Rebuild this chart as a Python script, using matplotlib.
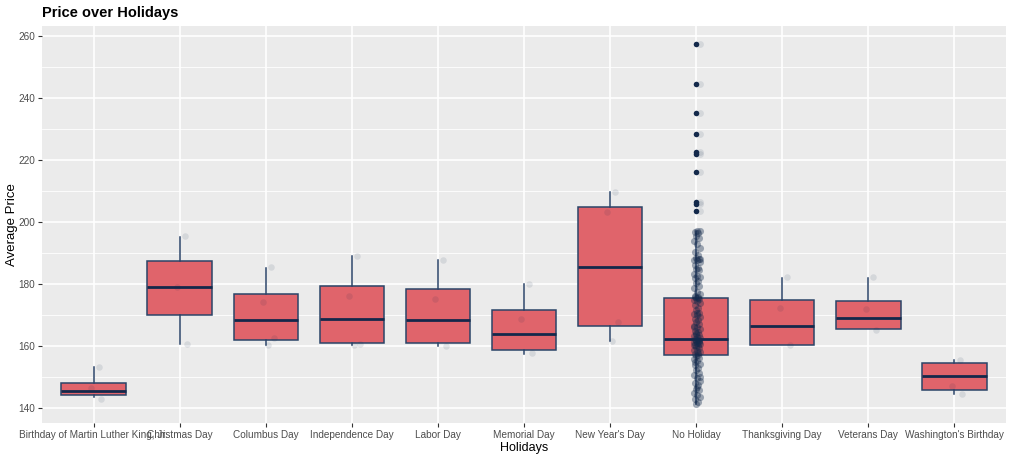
import matplotlib.pyplot as plt
import numpy as np

# categories on the x axis
holidays = ["Birthday of Martin Luther King, Jr.", "Christmas Day", "Columbus Day",
            "Independence Day", "Labor Day", "Memorial Day", "New Year's Day",
            "No Holiday", "Thanksgiving Day", "Veterans Day", "Washington's Birthday"]

# box statistics
whislo = [143.5, 160.6, 160.5, 160.3, 160.0, 157.6, 161.8, 141.3, 160.4, 165.4, 144.5]
q1 = [144.2, 169.9, 162.0, 161.1, 161.0, 158.6, 166.5, 157.2, 160.4, 165.6, 145.9]
med = [145.6, 179.1, 168.4, 168.8, 168.3, 163.9, 185.4, 162.4, 166.4, 169.0, 150.3]
q3 = [148.0, 187.3, 176.9, 179.4, 178.4, 171.5, 204.7, 175.5, 174.7, 174.6, 154.4]
whishi = [153.2, 195.3, 185.3, 188.9, 187.6, 180.0, 209.8, 197.2, 182.0, 182.0, 155.4]

# outliers of the "No Holiday" group
outliers_no_holiday = [257.4, 244.4, 235.3, 228.3, 222.5, 221.9, 216.0, 206.6, 205.8, 203.6]

# raw points for the holiday groups (one list per holiday)
points_holidays = [
    [153.4, 146.4, 142.8],
    [195.5, 179.0, 160.6],
    [185.4, 174.2, 162.6, 160.4],
    [189.0, 176.1, 160.6, 160.2],
    [187.6, 175.3, 160.0],
    [180.0, 168.7, 157.8],
    [209.8, 203.1, 167.7, 161.5],
    [],
    [182.3, 172.2, 160.4],
    [182.3, 172.0, 165.2],
    [155.4, 147.2, 144.5],
]

# raw points of the "No Holiday" group (estimated, dense strip)
points_no_holiday = [
    141.4, 142.0, 142.9, 143.6, 144.1, 145.0, 145.9, 146.3, 147.4, 148.1,
    148.9, 149.6, 150.8, 151.3, 152.2, 152.9, 153.8, 154.1, 155.2, 155.7,
    156.3, 156.9, 157.1, 157.6, 158.2, 158.5, 158.9, 159.3, 159.8, 160.1,
    160.4, 160.6, 160.9, 161.2, 161.5, 161.8, 162.0, 162.3, 162.5, 162.9,
    163.2, 163.6, 164.1, 164.5, 165.0, 165.6, 166.1, 166.4, 167.2, 167.9,
    168.4, 168.7, 169.5, 170.1, 170.4, 170.8, 171.6, 172.3, 173.1, 174.0,
    174.6, 175.0, 175.3, 175.6, 175.9, 176.2, 176.8, 177.5, 178.6, 179.4,
    180.3, 181.1, 181.8, 182.2, 182.5, 183.4, 184.6, 185.0, 185.3, 186.2,
    187.1, 187.6, 187.9, 188.2, 188.5, 189.4, 190.3, 191.6, 192.8, 193.9,
    194.7, 195.6, 196.3, 196.8, 197.0, 197.2, 160.2, 161.0, 162.1, 175.4,
    175.7, 188.0, 170.6, 166.0, 161.6, 163.9, 157.9, 155.0, 150.1, 146.9,
]

fill_color = "#E0646B"
edge_color = "#2B4468"
median_color = "#14284B"
point_color = "#13294B"

fig = plt.figure(figsize=(10.24, 4.61), dpi=100)
ax = fig.add_axes([42 / 1024, (461 - 422.7) / 461, (1006 - 42) / 1024, (422.7 - 26) / 461])
ax.set_facecolor("#EBEBEB")

positions = np.arange(1, len(holidays) + 1)
stats = []
for i in range(len(holidays)):
    stats.append({"whislo": whislo[i], "q1": q1[i], "med": med[i], "q3": q3[i],
                  "whishi": whishi[i], "fliers": []})

ax.bxp(stats, positions=positions, widths=0.75, patch_artist=True, showcaps=False,
       boxprops=dict(facecolor=fill_color, edgecolor=edge_color, linewidth=1.1),
       medianprops=dict(color=median_color, linewidth=2.0),
       whiskerprops=dict(color=edge_color, linewidth=1.1), zorder=3)

# outliers drawn as solid dots
nh = holidays.index("No Holiday") + 1
ax.scatter([nh] * len(outliers_no_holiday), outliers_no_holiday, s=16,
           color=point_color, zorder=5, linewidths=0)

# jittered raw points, faint
offsets = [0.06, -0.03, 0.09, 0.02, -0.06, 0.04]
for i, vals in enumerate(points_holidays):
    xs = [positions[i] + offsets[k % len(offsets)] for k in range(len(vals))]
    ax.scatter(xs, vals, s=22, color=point_color, alpha=0.1, zorder=4, linewidths=0)

small = [0.0, 0.025, -0.015, 0.04, 0.01, -0.02, 0.03]
xs = [nh + small[k % len(small)] for k in range(len(points_no_holiday))]
ax.scatter(xs, points_no_holiday, s=26, color=point_color, alpha=0.38, zorder=4,
           linewidths=0)
ax.scatter([nh + 0.05] * len(outliers_no_holiday), outliers_no_holiday, s=24,
           color=point_color, alpha=0.1, zorder=4, linewidths=0)

ax.set_xlim(0.4, len(holidays) + 0.6)
ax.set_ylim(135.3, 263.2)
ax.set_yticks(np.arange(140, 261, 20))
ax.set_yticks(np.arange(150, 261, 20), minor=True)
ax.set_xticks(positions)
ax.set_xticklabels(holidays)

ax.grid(which="major", color="white", linewidth=1.2, zorder=0)
ax.grid(which="minor", axis="y", color="white", linewidth=0.6, zorder=0)
ax.set_axisbelow(True)
for s in ax.spines.values():
    s.set_visible(False)
ax.tick_params(axis="both", which="major", length=3, color="#333333", width=0.8,
               labelsize=7.2, labelcolor="#4D4D4D", pad=2)
ax.tick_params(axis="y", which="minor", length=0)

for lab in ax.get_xticklabels() + ax.get_yticklabels():
    lab.set_family("Liberation Sans")

ax.set_xlabel("Holidays", fontsize=9, family="Liberation Sans", labelpad=2)
ax.set_ylabel("Average Price", fontsize=9.5, family="Liberation Sans")
ax.yaxis.set_label_coords((18 - 42) / 964, 0.5)
fig.text(42 / 1024, 1 - 17 / 461, "Price over Holidays", fontsize=10.5,
         fontweight="bold", family="Liberation Sans", ha="left", va="baseline")

fig.savefig("out.png", dpi=100)
